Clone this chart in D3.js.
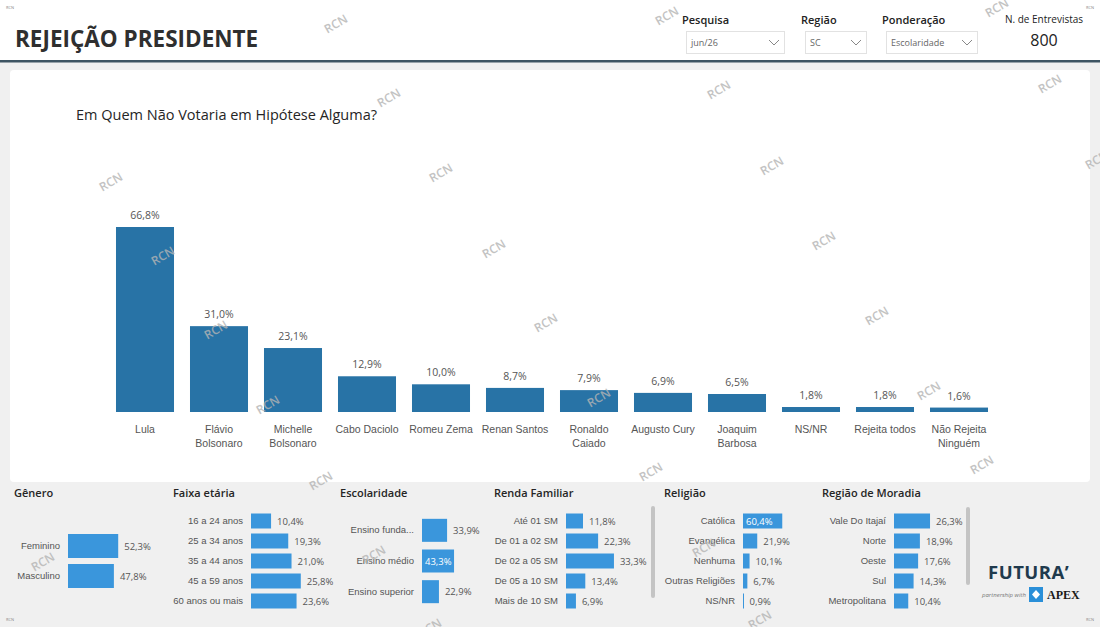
<html>
<head>
<meta charset="utf-8">
<style>
  body { margin: 0; background: #f0f0f0; font-family: "Segoe UI", "Open Sans", "Noto Sans", sans-serif; }
  svg { display: block; }
</style>
<script src="https://d3js.org/d3.v7.min.js"></script>
</head>
<body>
<svg id="page" width="1100" height="627"></svg>
<script>
  // main chart
  let candidates = ["Lula", "Flávio Bolsonaro", "Michelle Bolsonaro", "Cabo Daciolo", "Romeu Zema", "Renan Santos",
    "Ronaldo Caiado", "Augusto Cury", "Joaquim Barbosa", "NS/NR", "Rejeita todos", "Não Rejeita Ninguém"]
  let rejection = [66.8, 31.0, 23.1, 12.9, 10.0, 8.7, 7.9, 6.9, 6.5, 1.8, 1.8, 1.6]

  // small breakdown charts
  let generoCats = ["Feminino", "Masculino"]
  let generoVals = [52.3, 47.8]
  let faixaCats = ["16 a 24 anos", "25 a 34 anos", "35 a 44 anos", "45 a 59 anos", "60 anos ou mais"]
  let faixaVals = [10.4, 19.3, 21.0, 25.8, 23.6]
  let escolaCats = ["Ensino funda...", "Ensino médio", "Ensino superior"]
  let escolaVals = [33.9, 43.3, 22.9]
  let rendaCats = ["Até 01 SM", "De 01 a 02 SM", "De 02 a 05 SM", "De 05 a 10 SM", "Mais de 10 SM"]
  let rendaVals = [11.8, 22.3, 33.3, 13.4, 6.9]
  let religiaoCats = ["Católica", "Evangélica", "Nenhuma", "Outras Religiões", "NS/NR"]
  let religiaoVals = [60.4, 21.9, 10.1, 6.7, 0.9]
  let regiaoCats = ["Vale Do Itajaí", "Norte", "Oeste", "Sul", "Metropolitana"]
  let regiaoVals = [26.3, 18.9, 17.6, 14.3, 10.4]

  let fmt = v => v.toFixed(1).replace(".", ",") + "%"

  let svg = d3.select("#page")

  // header
  svg.append("rect").attr("x", 0).attr("y", 0).attr("width", 1100).attr("height", 60).attr("fill", "#ffffff")
  svg.append("rect").attr("x", 0).attr("y", 60).attr("width", 1100).attr("height", 2.5).attr("fill", "#3e5563")
  svg.append("text").attr("x", 15).attr("y", 47).text("REJEIÇÃO PRESIDENTE")
    .attr("font-size", 22.5).attr("font-weight", 700).attr("fill", "#2f2f2f")

  let filters = [
    { label: "Pesquisa", value: "jun/26", x: 682, w: 98 },
    { label: "Região", value: "SC", x: 801, w: 61 },
    { label: "Ponderação", value: "Escolaridade", x: 882, w: 91 }
  ]
  filters.forEach(f => {
    svg.append("text").attr("x", f.x).attr("y", 24).text(f.label)
      .attr("font-size", 11).attr("font-weight", 600).attr("fill", "#222")
    svg.append("rect").attr("x", f.x + 4.5).attr("y", 31.5).attr("width", f.w).attr("height", 22)
      .attr("fill", "#fff").attr("stroke", "#e2e2e2")
    svg.append("text").attr("x", f.x + 9).attr("y", 46).text(f.value)
      .attr("font-size", 9).attr("fill", "#666")
    let cx = f.x + f.w - 6
    svg.append("path").attr("d", `M${cx - 5},${40} L${cx},${45} L${cx + 5},${40}`)
      .attr("fill", "none").attr("stroke", "#888").attr("stroke-width", 1)
  })
  svg.append("text").attr("x", 1044).attr("y", 23).attr("text-anchor", "middle").text("N. de Entrevistas")
    .attr("font-size", 10).attr("fill", "#222")
  svg.append("text").attr("x", 1044).attr("y", 46).attr("text-anchor", "middle").text("800")
    .attr("font-size", 16).attr("fill", "#222")

  // main card
  svg.append("rect").attr("x", 10).attr("y", 70).attr("width", 1080).attr("height", 412).attr("rx", 4)
    .attr("fill", "#ffffff")
  svg.append("text").attr("x", 76).attr("y", 120).text("Em Quem Não Votaria em Hipótese Alguma?")
    .attr("font-size", 14.5).attr("fill", "#252525")

  let baseY = 412
  let x = d3.scaleBand().domain(candidates).range([108, 996]).paddingInner(0.216).paddingOuter(0.108)
  let y = d3.scaleLinear().domain([0, 66.8]).range([baseY, 227])

  let main = svg.append("g")
  main.selectAll("rect.bar").data(candidates).enter().append("rect")
    .attr("class", "bar")
    .attr("x", d => x(d))
    .attr("width", x.bandwidth())
    .attr("y", (d, i) => y(rejection[i]))
    .attr("height", (d, i) => baseY - y(rejection[i]))
    .attr("fill", "#2873a6")
  main.selectAll("text.val").data(candidates).enter().append("text")
    .attr("x", d => x(d) + x.bandwidth() / 2)
    .attr("y", (d, i) => y(rejection[i]) - 8)
    .attr("text-anchor", "middle")
    .attr("font-size", 10.5).attr("fill", "#555")
    .text((d, i) => fmt(rejection[i]))

  let axisX = d3.axisBottom(x).tickSize(0).tickPadding(0)
  let gx = svg.append("g").attr("transform", `translate(0,${baseY})`).call(axisX)
  gx.select(".domain").remove()
  gx.selectAll("text").attr("font-size", 10.5).attr("fill", "#555").attr("font-family", "inherit")
    .attr("dy", null).attr("y", 21)
    .each(function(d) {
      let t = d3.select(this)
      let words = d.split(" ")
      let lines = [], cur = []
      words.forEach(w => {
        t.text([...cur, w].join(" "))
        if (cur.length && this.getComputedTextLength() > 72) { lines.push(cur.join(" ")); cur = [w] }
        else cur.push(w)
      })
      lines.push(cur.join(" "))
      t.text(null)
      lines.forEach((l, i) => t.append("tspan").attr("x", 0).attr("dy", i ? 14 : 0).text(l))
    })

  // small charts
  function smallChart(opt) {
    let g = svg.append("g")
    g.append("text").attr("x", opt.titleX).attr("y", 497).text(opt.title)
      .attr("font-size", 11).attr("font-weight", 600).attr("fill", "#252525")
    let yb = d3.scaleBand().domain(opt.cats).range(opt.yRange).paddingInner(opt.pad).paddingOuter(opt.pad / 2)
    let xs = d3.scaleLinear().domain([0, 1]).range([opt.x0, opt.x0 + opt.k])
    g.selectAll("rect").data(opt.cats).enter().append("rect")
      .attr("x", opt.x0)
      .attr("y", d => yb(d))
      .attr("height", yb.bandwidth())
      .attr("width", (d, i) => Math.max(1, xs(opt.vals[i]) - opt.x0))
      .attr("fill", "#3a96dc")
    let maxV = d3.max(opt.vals)
    g.selectAll("text.v").data(opt.cats).enter().append("text")
      .attr("x", (d, i) => opt.inside && opt.vals[i] === maxV ? opt.x0 + 3 : xs(opt.vals[i]) + 6)
      .attr("y", d => yb(d) + yb.bandwidth() / 2 + 3.5)
      .attr("font-size", 9.5)
      .attr("fill", (d, i) => opt.inside && opt.vals[i] === maxV ? "#fff" : "#555")
      .text((d, i) => fmt(opt.vals[i]))
    let ax = g.append("g").attr("transform", `translate(${opt.x0 - 8},0)`)
      .call(d3.axisLeft(yb).tickSize(0).tickPadding(0))
    ax.select(".domain").remove()
    ax.selectAll("text").attr("font-size", 9.5).attr("fill", "#555").attr("font-family", "inherit")
    if (opt.scroll) {
      g.append("rect").attr("x", opt.scroll[0]).attr("y", opt.scroll[1]).attr("width", 4)
        .attr("height", opt.scroll[2]).attr("rx", 2).attr("fill", "#c4c4c4")
    }
  }

  smallChart({ title: "Gênero", titleX: 14, cats: generoCats, vals: generoVals, x0: 68, k: 0.96,
    yRange: [531, 591], pad: 0.2 })
  smallChart({ title: "Faixa etária", titleX: 173, cats: faixaCats, vals: faixaVals, x0: 251, k: 1.93,
    yRange: [511, 611], pad: 0.25 })
  smallChart({ title: "Escolaridade", titleX: 340, cats: escolaCats, vals: escolaVals, x0: 422, k: 0.74,
    yRange: [515, 607], pad: 0.25, inside: true })
  smallChart({ title: "Renda Familiar", titleX: 494, cats: rendaCats, vals: rendaVals, x0: 566, k: 1.44,
    yRange: [511, 611], pad: 0.25, scroll: [651, 506, 92] })
  smallChart({ title: "Religião", titleX: 664, cats: religiaoCats, vals: religiaoVals, x0: 743, k: 0.65,
    yRange: [511, 611], pad: 0.25, inside: true })
  smallChart({ title: "Região de Moradia", titleX: 822, cats: regiaoCats, vals: regiaoVals, x0: 894, k: 1.37,
    yRange: [511, 611], pad: 0.25, scroll: [966, 507, 78] })

  // logo
  svg.append("text").attr("x", 988).attr("y", 579).text("FUTURA’")
    .attr("font-size", 18.5).attr("font-weight", 700).attr("fill", "#1f3a4d").attr("letter-spacing", 0.5)
  svg.append("text").attr("x", 982).attr("y", 597).text("partnership with")
    .attr("font-size", 6).attr("font-style", "italic").attr("fill", "#777")
  svg.append("rect").attr("x", 1029).attr("y", 587).attr("width", 14).attr("height", 15).attr("fill", "#2a8fd8")
  svg.append("path").attr("d", "M1036,590 L1040,594.5 L1036,599 L1032,594.5 Z").attr("fill", "#fff")
  svg.append("text").attr("x", 1047).attr("y", 599).text("APEX")
    .attr("font-size", 12).attr("font-weight", 700).attr("font-family", "Liberation Serif, serif").attr("fill", "#1a1a1a")

  // watermarks
  let marks = [[336, 24], [667, 16], [997, 8], [389, 98], [719, 90], [1050, 84], [111, 182], [441, 173], [772, 166],
    [1097, 160], [163, 256], [494, 249], [824, 241], [216, 330], [546, 323], [877, 316], [268, 405], [599, 398],
    [929, 391], [321, 481], [651, 472], [982, 465], [43, 562], [374, 555], [704, 548], [430, 628], [760, 620]]
  svg.selectAll("text.wm").data(marks).enter().append("text")
    .attr("transform", d => `translate(${d[0]},${d[1]}) rotate(-30)`)
    .attr("text-anchor", "middle").attr("dy", 4)
    .attr("font-size", 12).attr("font-weight", 600).attr("fill", "#b4b4b4").attr("opacity", 0.8)
    .text("RCN")
  let tiny = [[10, 9], [1090, 9], [10, 621], [1090, 621]]
  svg.selectAll("text.tw").data(tiny).enter().append("text")
    .attr("x", d => d[0]).attr("y", d => d[1]).attr("text-anchor", "middle")
    .attr("font-size", 4).attr("fill", "#888").text("RCN")
</script>
</body>
</html>
